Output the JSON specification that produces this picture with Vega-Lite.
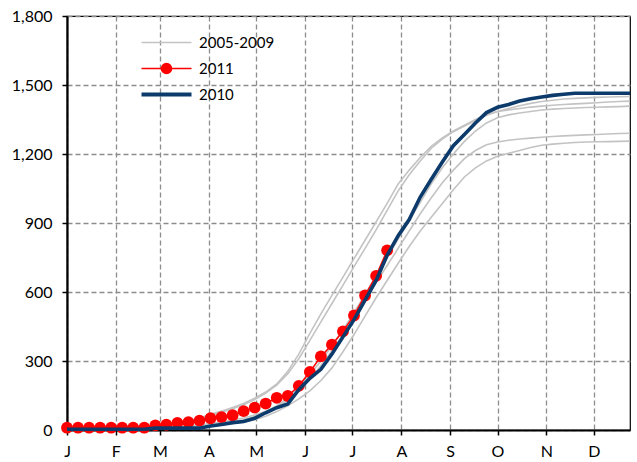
{
  "$schema": "https://vega.github.io/schema/vega-lite/v6.json",
  "width": 563,
  "height": 414,
  "autosize": {"type": "none"},
  "padding": {"left": 67, "top": 16, "right": 7, "bottom": 32},
  "background": "white",
  "config": {
    "font": "Lato",
    "view": {"stroke": "#000000", "strokeWidth": 1.2},
    "axis": {
      "domainColor": "#000000",
      "domainWidth": 2.2,
      "tickColor": "#000000",
      "tickWidth": 1.5,
      "tickSize": 5,
      "labelColor": "#000000",
      "labelFontSize": 16,
      "labelFont": "Lato",
      "gridColor": "#8c8c8c",
      "gridDash": [5, 3],
      "gridWidth": 1.3,
      "title": null
    },
    "legend": {
      "labelFontSize": 15,
      "labelFont": "Lato",
      "labelColor": "#000000"
    }
  },
  "data": {
    "values": [
      {"s":"2005-2009","yr":"A","d":0,"v":2},{"s":"2005-2009","yr":"A","d":7,"v":3},{"s":"2005-2009","yr":"A","d":14,"v":4},{"s":"2005-2009","yr":"A","d":21,"v":5},{"s":"2005-2009","yr":"A","d":28,"v":7},{"s":"2005-2009","yr":"A","d":35,"v":9},{"s":"2005-2009","yr":"A","d":42,"v":11},{"s":"2005-2009","yr":"A","d":49,"v":14},{"s":"2005-2009","yr":"A","d":56,"v":18},{"s":"2005-2009","yr":"A","d":63,"v":23},{"s":"2005-2009","yr":"A","d":70,"v":30},{"s":"2005-2009","yr":"A","d":77,"v":40},{"s":"2005-2009","yr":"A","d":84,"v":52},{"s":"2005-2009","yr":"A","d":91,"v":68},{"s":"2005-2009","yr":"A","d":98,"v":82},{"s":"2005-2009","yr":"A","d":105,"v":98},{"s":"2005-2009","yr":"A","d":112,"v":115},{"s":"2005-2009","yr":"A","d":119,"v":138},{"s":"2005-2009","yr":"A","d":126,"v":165},{"s":"2005-2009","yr":"A","d":133,"v":200},{"s":"2005-2009","yr":"A","d":140,"v":255},{"s":"2005-2009","yr":"A","d":147,"v":330},{"s":"2005-2009","yr":"A","d":154,"v":420},{"s":"2005-2009","yr":"A","d":161,"v":505},{"s":"2005-2009","yr":"A","d":168,"v":585},{"s":"2005-2009","yr":"A","d":175,"v":665},{"s":"2005-2009","yr":"A","d":182,"v":745},{"s":"2005-2009","yr":"A","d":189,"v":825},{"s":"2005-2009","yr":"A","d":196,"v":905},{"s":"2005-2009","yr":"A","d":203,"v":985},{"s":"2005-2009","yr":"A","d":210,"v":1070},{"s":"2005-2009","yr":"A","d":217,"v":1130},{"s":"2005-2009","yr":"A","d":224,"v":1185},{"s":"2005-2009","yr":"A","d":231,"v":1233},{"s":"2005-2009","yr":"A","d":238,"v":1270},{"s":"2005-2009","yr":"A","d":245,"v":1300},{"s":"2005-2009","yr":"A","d":252,"v":1325},{"s":"2005-2009","yr":"A","d":259,"v":1350},{"s":"2005-2009","yr":"A","d":266,"v":1372},{"s":"2005-2009","yr":"A","d":273,"v":1385},{"s":"2005-2009","yr":"A","d":280,"v":1392},{"s":"2005-2009","yr":"A","d":287,"v":1398},{"s":"2005-2009","yr":"A","d":294,"v":1404},{"s":"2005-2009","yr":"A","d":301,"v":1408},{"s":"2005-2009","yr":"A","d":308,"v":1412},{"s":"2005-2009","yr":"A","d":315,"v":1415},{"s":"2005-2009","yr":"A","d":322,"v":1418},{"s":"2005-2009","yr":"A","d":329,"v":1420},{"s":"2005-2009","yr":"A","d":336,"v":1423},{"s":"2005-2009","yr":"A","d":343,"v":1426},{"s":"2005-2009","yr":"A","d":350,"v":1428},{"s":"2005-2009","yr":"A","d":357,"v":1430},
      {"s":"2005-2009","yr":"B","d":0,"v":2},{"s":"2005-2009","yr":"B","d":7,"v":3},{"s":"2005-2009","yr":"B","d":14,"v":3},{"s":"2005-2009","yr":"B","d":21,"v":4},{"s":"2005-2009","yr":"B","d":28,"v":5},{"s":"2005-2009","yr":"B","d":35,"v":7},{"s":"2005-2009","yr":"B","d":42,"v":9},{"s":"2005-2009","yr":"B","d":49,"v":12},{"s":"2005-2009","yr":"B","d":56,"v":16},{"s":"2005-2009","yr":"B","d":63,"v":21},{"s":"2005-2009","yr":"B","d":70,"v":28},{"s":"2005-2009","yr":"B","d":77,"v":37},{"s":"2005-2009","yr":"B","d":84,"v":48},{"s":"2005-2009","yr":"B","d":91,"v":62},{"s":"2005-2009","yr":"B","d":98,"v":76},{"s":"2005-2009","yr":"B","d":105,"v":92},{"s":"2005-2009","yr":"B","d":112,"v":110},{"s":"2005-2009","yr":"B","d":119,"v":132},{"s":"2005-2009","yr":"B","d":126,"v":160},{"s":"2005-2009","yr":"B","d":133,"v":195},{"s":"2005-2009","yr":"B","d":140,"v":245},{"s":"2005-2009","yr":"B","d":147,"v":310},{"s":"2005-2009","yr":"B","d":154,"v":390},{"s":"2005-2009","yr":"B","d":161,"v":470},{"s":"2005-2009","yr":"B","d":168,"v":550},{"s":"2005-2009","yr":"B","d":175,"v":630},{"s":"2005-2009","yr":"B","d":182,"v":710},{"s":"2005-2009","yr":"B","d":189,"v":790},{"s":"2005-2009","yr":"B","d":196,"v":870},{"s":"2005-2009","yr":"B","d":203,"v":955},{"s":"2005-2009","yr":"B","d":210,"v":1040},{"s":"2005-2009","yr":"B","d":217,"v":1110},{"s":"2005-2009","yr":"B","d":224,"v":1170},{"s":"2005-2009","yr":"B","d":231,"v":1225},{"s":"2005-2009","yr":"B","d":238,"v":1265},{"s":"2005-2009","yr":"B","d":245,"v":1297},{"s":"2005-2009","yr":"B","d":252,"v":1322},{"s":"2005-2009","yr":"B","d":259,"v":1345},{"s":"2005-2009","yr":"B","d":266,"v":1368},{"s":"2005-2009","yr":"B","d":273,"v":1385},{"s":"2005-2009","yr":"B","d":280,"v":1398},{"s":"2005-2009","yr":"B","d":287,"v":1410},{"s":"2005-2009","yr":"B","d":294,"v":1420},{"s":"2005-2009","yr":"B","d":301,"v":1428},{"s":"2005-2009","yr":"B","d":308,"v":1434},{"s":"2005-2009","yr":"B","d":315,"v":1439},{"s":"2005-2009","yr":"B","d":322,"v":1442},{"s":"2005-2009","yr":"B","d":329,"v":1444},{"s":"2005-2009","yr":"B","d":336,"v":1446},{"s":"2005-2009","yr":"B","d":343,"v":1448},{"s":"2005-2009","yr":"B","d":350,"v":1449},{"s":"2005-2009","yr":"B","d":357,"v":1450},
      {"s":"2005-2009","yr":"C","d":0,"v":1},{"s":"2005-2009","yr":"C","d":7,"v":2},{"s":"2005-2009","yr":"C","d":14,"v":2},{"s":"2005-2009","yr":"C","d":21,"v":3},{"s":"2005-2009","yr":"C","d":28,"v":3},{"s":"2005-2009","yr":"C","d":35,"v":4},{"s":"2005-2009","yr":"C","d":42,"v":5},{"s":"2005-2009","yr":"C","d":49,"v":6},{"s":"2005-2009","yr":"C","d":56,"v":8},{"s":"2005-2009","yr":"C","d":63,"v":10},{"s":"2005-2009","yr":"C","d":70,"v":13},{"s":"2005-2009","yr":"C","d":77,"v":17},{"s":"2005-2009","yr":"C","d":84,"v":22},{"s":"2005-2009","yr":"C","d":91,"v":28},{"s":"2005-2009","yr":"C","d":98,"v":35},{"s":"2005-2009","yr":"C","d":105,"v":43},{"s":"2005-2009","yr":"C","d":112,"v":52},{"s":"2005-2009","yr":"C","d":119,"v":65},{"s":"2005-2009","yr":"C","d":126,"v":82},{"s":"2005-2009","yr":"C","d":133,"v":105},{"s":"2005-2009","yr":"C","d":140,"v":140},{"s":"2005-2009","yr":"C","d":147,"v":185},{"s":"2005-2009","yr":"C","d":154,"v":240},{"s":"2005-2009","yr":"C","d":161,"v":300},{"s":"2005-2009","yr":"C","d":168,"v":365},{"s":"2005-2009","yr":"C","d":175,"v":435},{"s":"2005-2009","yr":"C","d":182,"v":510},{"s":"2005-2009","yr":"C","d":189,"v":590},{"s":"2005-2009","yr":"C","d":196,"v":670},{"s":"2005-2009","yr":"C","d":203,"v":750},{"s":"2005-2009","yr":"C","d":210,"v":830},{"s":"2005-2009","yr":"C","d":217,"v":910},{"s":"2005-2009","yr":"C","d":224,"v":990},{"s":"2005-2009","yr":"C","d":231,"v":1070},{"s":"2005-2009","yr":"C","d":238,"v":1140},{"s":"2005-2009","yr":"C","d":245,"v":1200},{"s":"2005-2009","yr":"C","d":252,"v":1255},{"s":"2005-2009","yr":"C","d":259,"v":1300},{"s":"2005-2009","yr":"C","d":266,"v":1335},{"s":"2005-2009","yr":"C","d":273,"v":1358},{"s":"2005-2009","yr":"C","d":280,"v":1370},{"s":"2005-2009","yr":"C","d":287,"v":1378},{"s":"2005-2009","yr":"C","d":294,"v":1385},{"s":"2005-2009","yr":"C","d":301,"v":1391},{"s":"2005-2009","yr":"C","d":308,"v":1395},{"s":"2005-2009","yr":"C","d":315,"v":1398},{"s":"2005-2009","yr":"C","d":322,"v":1400},{"s":"2005-2009","yr":"C","d":329,"v":1402},{"s":"2005-2009","yr":"C","d":336,"v":1403},{"s":"2005-2009","yr":"C","d":343,"v":1405},{"s":"2005-2009","yr":"C","d":350,"v":1406},{"s":"2005-2009","yr":"C","d":357,"v":1408},
      {"s":"2005-2009","yr":"D","d":0,"v":1},{"s":"2005-2009","yr":"D","d":7,"v":1},{"s":"2005-2009","yr":"D","d":14,"v":2},{"s":"2005-2009","yr":"D","d":21,"v":2},{"s":"2005-2009","yr":"D","d":28,"v":3},{"s":"2005-2009","yr":"D","d":35,"v":3},{"s":"2005-2009","yr":"D","d":42,"v":4},{"s":"2005-2009","yr":"D","d":49,"v":5},{"s":"2005-2009","yr":"D","d":56,"v":6},{"s":"2005-2009","yr":"D","d":63,"v":8},{"s":"2005-2009","yr":"D","d":70,"v":10},{"s":"2005-2009","yr":"D","d":77,"v":13},{"s":"2005-2009","yr":"D","d":84,"v":17},{"s":"2005-2009","yr":"D","d":91,"v":22},{"s":"2005-2009","yr":"D","d":98,"v":28},{"s":"2005-2009","yr":"D","d":105,"v":35},{"s":"2005-2009","yr":"D","d":112,"v":45},{"s":"2005-2009","yr":"D","d":119,"v":58},{"s":"2005-2009","yr":"D","d":126,"v":75},{"s":"2005-2009","yr":"D","d":133,"v":100},{"s":"2005-2009","yr":"D","d":140,"v":130},{"s":"2005-2009","yr":"D","d":147,"v":170},{"s":"2005-2009","yr":"D","d":154,"v":220},{"s":"2005-2009","yr":"D","d":161,"v":280},{"s":"2005-2009","yr":"D","d":168,"v":345},{"s":"2005-2009","yr":"D","d":175,"v":415},{"s":"2005-2009","yr":"D","d":182,"v":490},{"s":"2005-2009","yr":"D","d":189,"v":565},{"s":"2005-2009","yr":"D","d":196,"v":640},{"s":"2005-2009","yr":"D","d":203,"v":715},{"s":"2005-2009","yr":"D","d":210,"v":790},{"s":"2005-2009","yr":"D","d":217,"v":865},{"s":"2005-2009","yr":"D","d":224,"v":940},{"s":"2005-2009","yr":"D","d":231,"v":1010},{"s":"2005-2009","yr":"D","d":238,"v":1075},{"s":"2005-2009","yr":"D","d":245,"v":1130},{"s":"2005-2009","yr":"D","d":252,"v":1180},{"s":"2005-2009","yr":"D","d":259,"v":1215},{"s":"2005-2009","yr":"D","d":266,"v":1240},{"s":"2005-2009","yr":"D","d":273,"v":1252},{"s":"2005-2009","yr":"D","d":280,"v":1260},{"s":"2005-2009","yr":"D","d":287,"v":1265},{"s":"2005-2009","yr":"D","d":294,"v":1269},{"s":"2005-2009","yr":"D","d":301,"v":1273},{"s":"2005-2009","yr":"D","d":308,"v":1276},{"s":"2005-2009","yr":"D","d":315,"v":1279},{"s":"2005-2009","yr":"D","d":322,"v":1281},{"s":"2005-2009","yr":"D","d":329,"v":1283},{"s":"2005-2009","yr":"D","d":336,"v":1285},{"s":"2005-2009","yr":"D","d":343,"v":1287},{"s":"2005-2009","yr":"D","d":350,"v":1289},{"s":"2005-2009","yr":"D","d":357,"v":1290},
      {"s":"2005-2009","yr":"E","d":0,"v":1},{"s":"2005-2009","yr":"E","d":7,"v":1},{"s":"2005-2009","yr":"E","d":14,"v":1},{"s":"2005-2009","yr":"E","d":21,"v":2},{"s":"2005-2009","yr":"E","d":28,"v":2},{"s":"2005-2009","yr":"E","d":35,"v":3},{"s":"2005-2009","yr":"E","d":42,"v":3},{"s":"2005-2009","yr":"E","d":49,"v":4},{"s":"2005-2009","yr":"E","d":56,"v":5},{"s":"2005-2009","yr":"E","d":63,"v":6},{"s":"2005-2009","yr":"E","d":70,"v":8},{"s":"2005-2009","yr":"E","d":77,"v":10},{"s":"2005-2009","yr":"E","d":84,"v":13},{"s":"2005-2009","yr":"E","d":91,"v":17},{"s":"2005-2009","yr":"E","d":98,"v":22},{"s":"2005-2009","yr":"E","d":105,"v":28},{"s":"2005-2009","yr":"E","d":112,"v":35},{"s":"2005-2009","yr":"E","d":119,"v":45},{"s":"2005-2009","yr":"E","d":126,"v":60},{"s":"2005-2009","yr":"E","d":133,"v":80},{"s":"2005-2009","yr":"E","d":140,"v":105},{"s":"2005-2009","yr":"E","d":147,"v":135},{"s":"2005-2009","yr":"E","d":154,"v":170},{"s":"2005-2009","yr":"E","d":161,"v":215},{"s":"2005-2009","yr":"E","d":168,"v":270},{"s":"2005-2009","yr":"E","d":175,"v":340},{"s":"2005-2009","yr":"E","d":182,"v":415},{"s":"2005-2009","yr":"E","d":189,"v":495},{"s":"2005-2009","yr":"E","d":196,"v":575},{"s":"2005-2009","yr":"E","d":203,"v":650},{"s":"2005-2009","yr":"E","d":210,"v":725},{"s":"2005-2009","yr":"E","d":217,"v":798},{"s":"2005-2009","yr":"E","d":224,"v":865},{"s":"2005-2009","yr":"E","d":231,"v":925},{"s":"2005-2009","yr":"E","d":238,"v":985},{"s":"2005-2009","yr":"E","d":245,"v":1045},{"s":"2005-2009","yr":"E","d":252,"v":1100},{"s":"2005-2009","yr":"E","d":259,"v":1140},{"s":"2005-2009","yr":"E","d":266,"v":1170},{"s":"2005-2009","yr":"E","d":273,"v":1190},{"s":"2005-2009","yr":"E","d":280,"v":1203},{"s":"2005-2009","yr":"E","d":287,"v":1215},{"s":"2005-2009","yr":"E","d":294,"v":1228},{"s":"2005-2009","yr":"E","d":301,"v":1238},{"s":"2005-2009","yr":"E","d":308,"v":1243},{"s":"2005-2009","yr":"E","d":315,"v":1247},{"s":"2005-2009","yr":"E","d":322,"v":1250},{"s":"2005-2009","yr":"E","d":329,"v":1252},{"s":"2005-2009","yr":"E","d":336,"v":1253},{"s":"2005-2009","yr":"E","d":343,"v":1254},{"s":"2005-2009","yr":"E","d":350,"v":1255},{"s":"2005-2009","yr":"E","d":357,"v":1256},
      {"s":"2011","yr":"2011","d":0,"v":10},{"s":"2011","yr":"2011","d":7,"v":10},{"s":"2011","yr":"2011","d":14,"v":10},{"s":"2011","yr":"2011","d":21,"v":10},{"s":"2011","yr":"2011","d":28,"v":10},{"s":"2011","yr":"2011","d":35,"v":10},{"s":"2011","yr":"2011","d":42,"v":10},{"s":"2011","yr":"2011","d":49,"v":10},{"s":"2011","yr":"2011","d":56,"v":20},{"s":"2011","yr":"2011","d":63,"v":23},{"s":"2011","yr":"2011","d":70,"v":31},{"s":"2011","yr":"2011","d":77,"v":34},{"s":"2011","yr":"2011","d":84,"v":41},{"s":"2011","yr":"2011","d":91,"v":51},{"s":"2011","yr":"2011","d":98,"v":56},{"s":"2011","yr":"2011","d":105,"v":64},{"s":"2011","yr":"2011","d":112,"v":82},{"s":"2011","yr":"2011","d":119,"v":97},{"s":"2011","yr":"2011","d":126,"v":115},{"s":"2011","yr":"2011","d":133,"v":140},{"s":"2011","yr":"2011","d":140,"v":148},{"s":"2011","yr":"2011","d":147,"v":192},{"s":"2011","yr":"2011","d":154,"v":252},{"s":"2011","yr":"2011","d":161,"v":320},{"s":"2011","yr":"2011","d":168,"v":371},{"s":"2011","yr":"2011","d":175,"v":429},{"s":"2011","yr":"2011","d":182,"v":498},{"s":"2011","yr":"2011","d":189,"v":585},{"s":"2011","yr":"2011","d":196,"v":670},{"s":"2011","yr":"2011","d":203,"v":781},
      {"s":"2010","yr":"2010","d":0,"v":3},{"s":"2010","yr":"2010","d":7,"v":3},{"s":"2010","yr":"2010","d":14,"v":3},{"s":"2010","yr":"2010","d":21,"v":3},{"s":"2010","yr":"2010","d":28,"v":3},{"s":"2010","yr":"2010","d":35,"v":3},{"s":"2010","yr":"2010","d":42,"v":3},{"s":"2010","yr":"2010","d":49,"v":3},{"s":"2010","yr":"2010","d":56,"v":8},{"s":"2010","yr":"2010","d":63,"v":8},{"s":"2010","yr":"2010","d":70,"v":8},{"s":"2010","yr":"2010","d":77,"v":8},{"s":"2010","yr":"2010","d":84,"v":8},{"s":"2010","yr":"2010","d":91,"v":17},{"s":"2010","yr":"2010","d":98,"v":24},{"s":"2010","yr":"2010","d":105,"v":32},{"s":"2010","yr":"2010","d":112,"v":37},{"s":"2010","yr":"2010","d":119,"v":51},{"s":"2010","yr":"2010","d":126,"v":75},{"s":"2010","yr":"2010","d":133,"v":97},{"s":"2010","yr":"2010","d":140,"v":113},{"s":"2010","yr":"2010","d":147,"v":175},{"s":"2010","yr":"2010","d":154,"v":225},{"s":"2010","yr":"2010","d":161,"v":264},{"s":"2010","yr":"2010","d":168,"v":330},{"s":"2010","yr":"2010","d":175,"v":405},{"s":"2010","yr":"2010","d":182,"v":480},{"s":"2010","yr":"2010","d":189,"v":565},{"s":"2010","yr":"2010","d":196,"v":650},{"s":"2010","yr":"2010","d":203,"v":760},{"s":"2010","yr":"2010","d":210,"v":845},{"s":"2010","yr":"2010","d":217,"v":915},{"s":"2010","yr":"2010","d":224,"v":1013},{"s":"2010","yr":"2010","d":231,"v":1090},{"s":"2010","yr":"2010","d":238,"v":1165},{"s":"2010","yr":"2010","d":245,"v":1236},{"s":"2010","yr":"2010","d":252,"v":1285},{"s":"2010","yr":"2010","d":259,"v":1335},{"s":"2010","yr":"2010","d":266,"v":1380},{"s":"2010","yr":"2010","d":273,"v":1403},{"s":"2010","yr":"2010","d":280,"v":1415},{"s":"2010","yr":"2010","d":287,"v":1430},{"s":"2010","yr":"2010","d":294,"v":1440},{"s":"2010","yr":"2010","d":301,"v":1448},{"s":"2010","yr":"2010","d":308,"v":1455},{"s":"2010","yr":"2010","d":315,"v":1460},{"s":"2010","yr":"2010","d":322,"v":1464},{"s":"2010","yr":"2010","d":329,"v":1464},{"s":"2010","yr":"2010","d":336,"v":1464},{"s":"2010","yr":"2010","d":343,"v":1464},{"s":"2010","yr":"2010","d":350,"v":1464},{"s":"2010","yr":"2010","d":357,"v":1464}
    ]
  },
  "encoding": {
    "x": {
      "field": "d",
      "type": "quantitative",
      "scale": {"domain": [0, 357], "nice": false, "zero": false},
      "axis": {
        "values": [0, 31, 59, 90, 120, 151, 181, 212, 243, 273, 304, 334],
        "labelExpr": "['J','F','M','A','M','J','J','A','S','O','N','D'][indexof([0,31,59,90,120,151,181,212,243,273,304,334], datum.value)]",
        "labelPadding": 8,
        "labelFlush": false,
        "labelOverlap": false
      }
    },
    "y": {
      "field": "v",
      "type": "quantitative",
      "scale": {"domain": [0, 1800], "nice": false},
      "axis": {
        "values": [0, 300, 600, 900, 1200, 1500, 1800],
        "format": ",.0f",
        "labelPadding": 10,
        "labelFlush": false
      }
    },
    "color": {
      "field": "s",
      "type": "nominal",
      "scale": {"domain": ["2005-2009", "2011", "2010"], "range": ["#c3c3c3", "#ff0000", "#0b3a6b"]},
      "legend": {
        "title": null,
        "orient": "none",
        "legendX": 92,
        "legendY": 19,
        "symbolType": "stroke",
        "symbolSize": 2500,
        "symbolStrokeWidth": 2,
        "rowPadding": 9,
        "labelOffset": 25,
        "encode": {
          "symbols": {
            "update": {
              "shape": {"signal": "datum.value == '2011' ? 'M-1,0L1,0M-0.2,0A0.2,0.2 0 1,1 0.2,0A0.2,0.2 0 1,1 -0.2,0Z' : 'stroke'"},
              "strokeWidth": {"signal": "datum.value == '2010' ? 4 : 1.6"},
              "fill": {"signal": "datum.value == '2011' ? '#ff0000' : 'transparent'"}
            }
          }
        }
      }
    }
  },
  "layer": [
    {
      "transform": [{"filter": "datum.s == '2005-2009'"}],
      "mark": {"type": "line", "strokeWidth": 1.6},
      "encoding": {"detail": {"field": "yr"}}
    },
    {
      "transform": [{"filter": "datum.s == '2011'"}],
      "mark": {"type": "line", "strokeWidth": 1.5}
    },
    {
      "transform": [{"filter": "datum.s == '2011'"}],
      "mark": {"type": "point", "filled": true, "size": 140, "opacity": 1}
    },
    {
      "transform": [{"filter": "datum.s == '2010'"}],
      "mark": {"type": "line", "strokeWidth": 3.6}
    }
  ]
}
